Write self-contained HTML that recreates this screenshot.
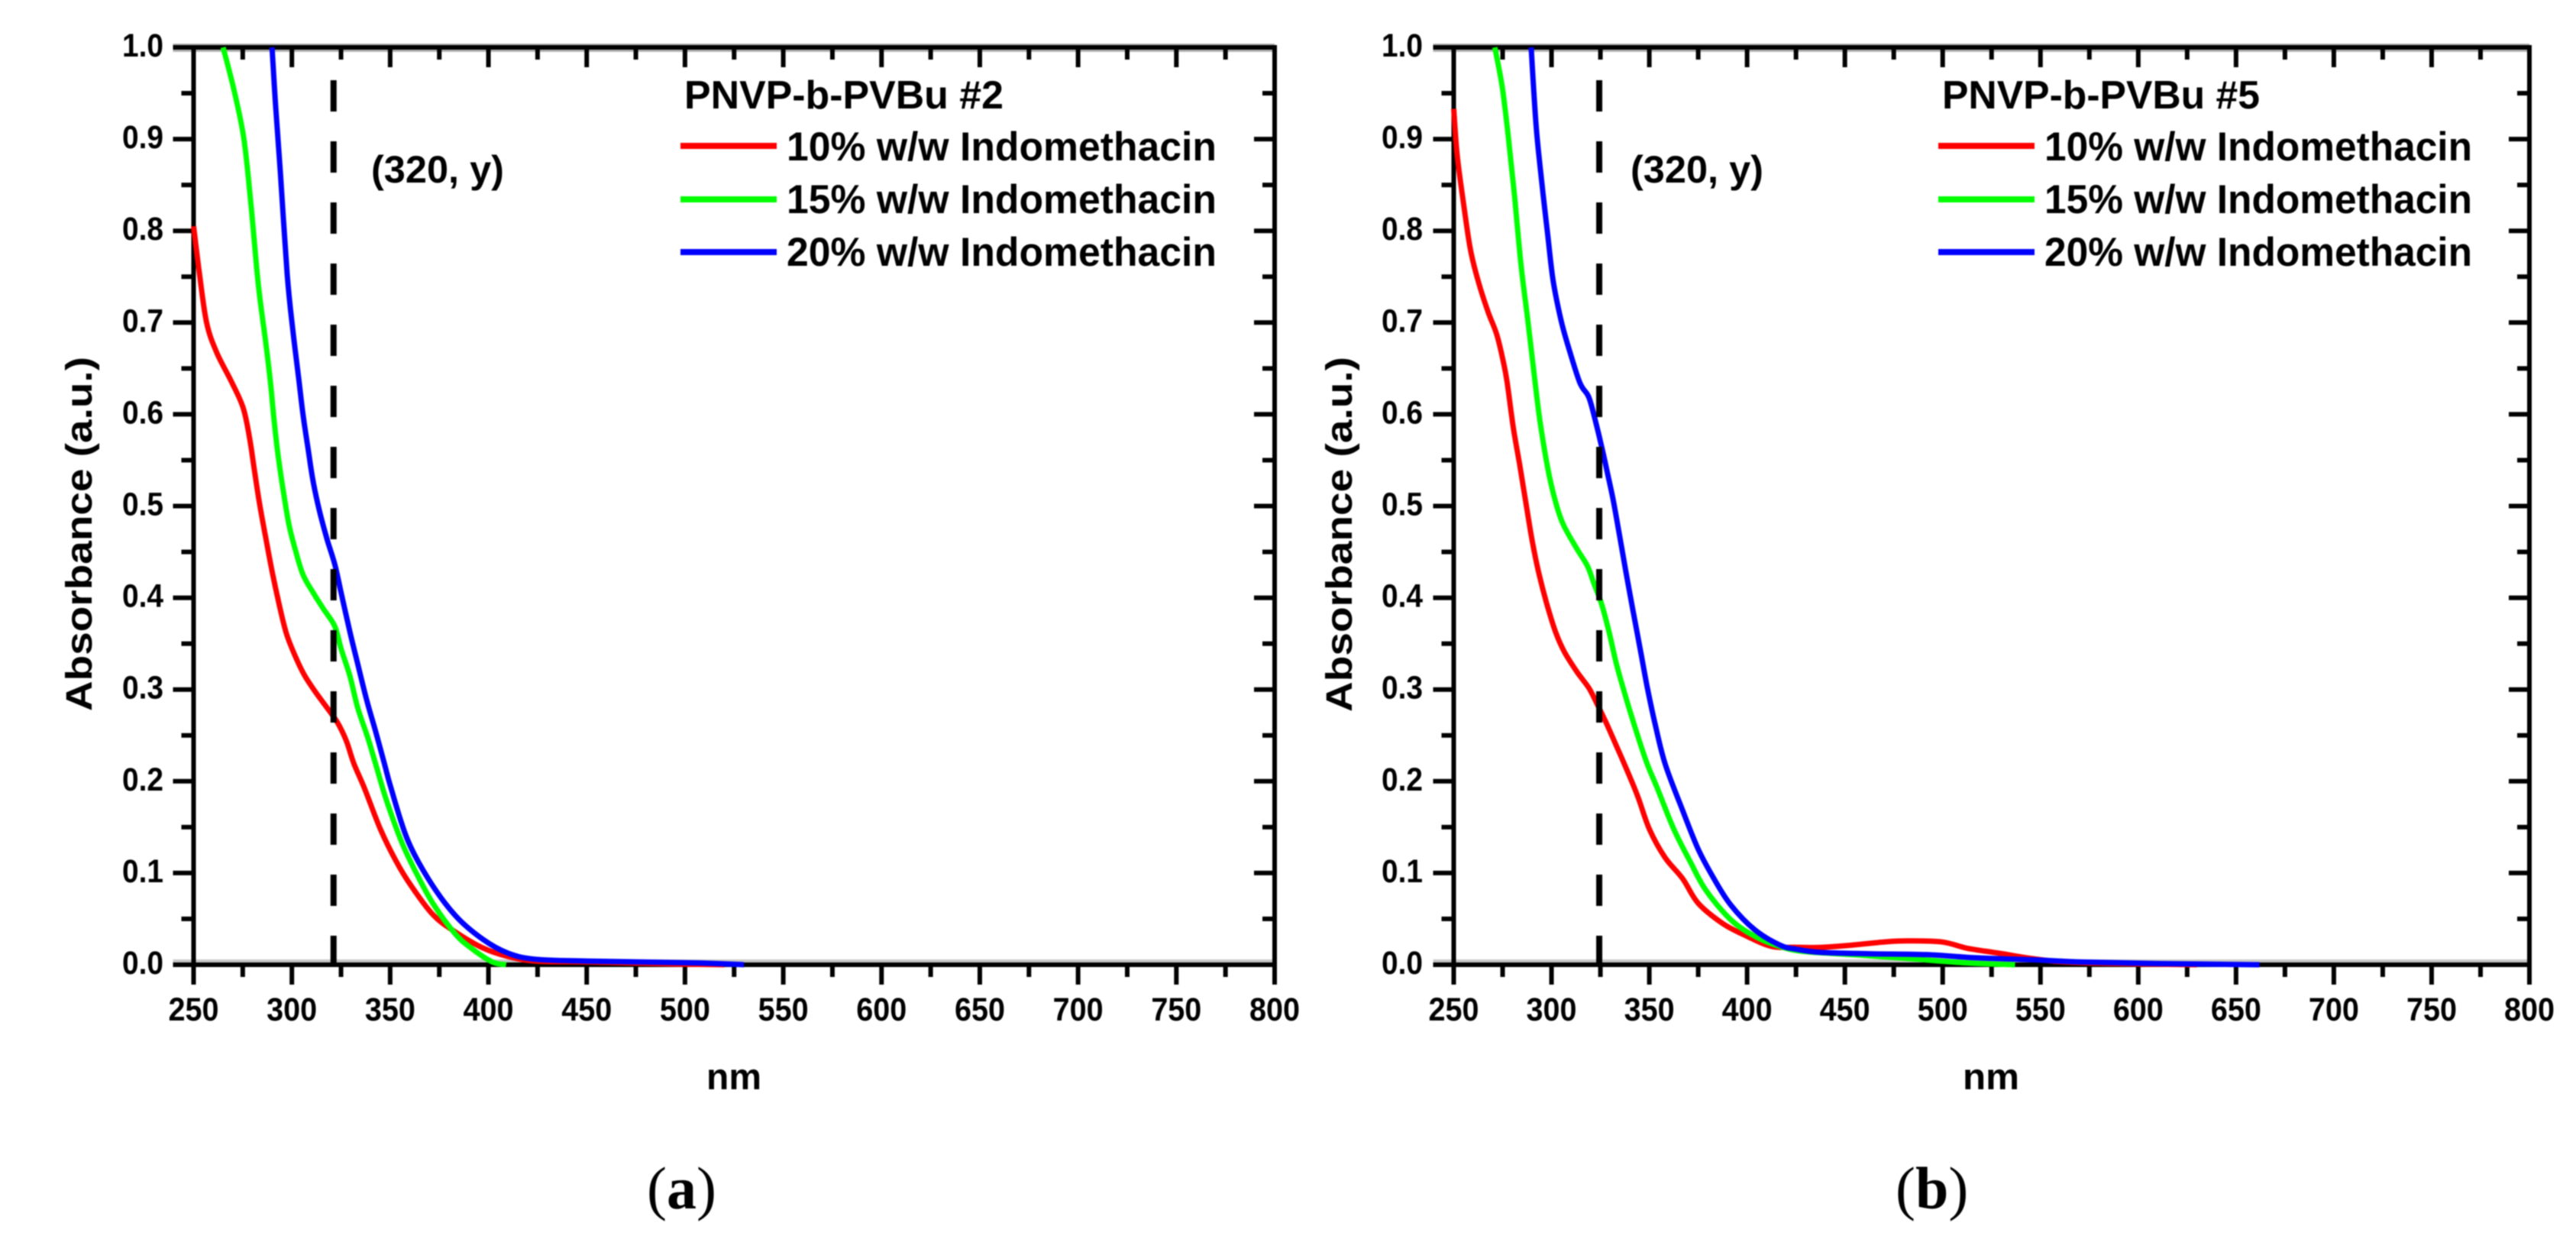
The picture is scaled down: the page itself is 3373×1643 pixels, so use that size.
<!DOCTYPE html>
<html lang="en">
<head>
<meta charset="utf-8">
<title>UV-Vis absorbance of PNVP-b-PVBu with Indomethacin</title>
<style>
html,body{margin:0;padding:0;background:#fff;}
svg{display:block;}
text{font-family:"Liberation Sans",sans-serif;font-weight:700;fill:#000;}
.serif{font-family:"Liberation Serif",serif;font-weight:400;}
</style>
</head>
<body>
<svg id="figure" xmlns="http://www.w3.org/2000/svg" width="3373" height="1643" viewBox="0 0 3373 1643">
  <rect width="3373" height="1643" fill="#fff"/>
  <g id="root" style="filter:blur(0.8px)">
    <g id="panel-a">
      <text transform="translate(120,931) rotate(-90)" font-size="48" textLength="464" lengthAdjust="spacingAndGlyphs">Absorbance (a.u.)</text>
      <text x="925" y="1426" font-size="48" textLength="72" lengthAdjust="spacingAndGlyphs">nm</text>
      <text x="486" y="239" font-size="50" textLength="174" lengthAdjust="spacingAndGlyphs">(320, y)</text>
      <text x="896" y="142" font-size="52" textLength="418" lengthAdjust="spacingAndGlyphs">PNVP-b-PVBu #2</text>
      <line x1="891" x2="1017" y1="191" y2="191" stroke="#ff0000" stroke-width="8"/>
      <line x1="891" x2="1017" y1="261" y2="261" stroke="#00ff00" stroke-width="8"/>
      <line x1="891" x2="1017" y1="330" y2="330" stroke="#0000ff" stroke-width="8"/>
      <text x="1030" y="210" font-size="53" textLength="563" lengthAdjust="spacingAndGlyphs">10% w/w Indomethacin</text>
      <text x="1030" y="279" font-size="53" textLength="563" lengthAdjust="spacingAndGlyphs">15% w/w Indomethacin</text>
      <text x="1030" y="348" font-size="53" textLength="563" lengthAdjust="spacingAndGlyphs">20% w/w Indomethacin</text>
      <text class="serif" x="847" y="1582" font-size="78">(<tspan font-weight="700" style="font-weight:700">a</tspan>)</text>
    </g>
    <g id="panel-b">
      <text transform="translate(1770,932) rotate(-90)" font-size="48" textLength="465" lengthAdjust="spacingAndGlyphs">Absorbance (a.u.)</text>
      <text x="2570" y="1426" font-size="48" textLength="74" lengthAdjust="spacingAndGlyphs">nm</text>
      <text x="2135" y="239" font-size="50" textLength="174" lengthAdjust="spacingAndGlyphs">(320, y)</text>
      <text x="2543" y="142" font-size="52" textLength="416" lengthAdjust="spacingAndGlyphs">PNVP-b-PVBu #5</text>
      <line x1="2538" x2="2664" y1="191" y2="191" stroke="#ff0000" stroke-width="8"/>
      <line x1="2538" x2="2664" y1="261" y2="261" stroke="#00ff00" stroke-width="8"/>
      <line x1="2538" x2="2664" y1="330" y2="330" stroke="#0000ff" stroke-width="8"/>
      <text x="2677" y="210" font-size="53" textLength="560" lengthAdjust="spacingAndGlyphs">10% w/w Indomethacin</text>
      <text x="2677" y="279" font-size="53" textLength="560" lengthAdjust="spacingAndGlyphs">15% w/w Indomethacin</text>
      <text x="2677" y="348" font-size="53" textLength="560" lengthAdjust="spacingAndGlyphs">20% w/w Indomethacin</text>
      <text class="serif" x="2482" y="1582" font-size="78">(<tspan font-weight="700" style="font-weight:700">b</tspan>)</text>
    </g>
  </g>
</svg>
<script>
// Tick values and labels
var xMajorTicks = [250, 300, 350, 400, 450, 500, 550, 600, 650, 700, 750, 800];
var xMinorTicks = [275, 325, 375, 425, 475, 525, 575, 625, 675, 725, 775];
var yMajorTicks = [0, 0.1, 0.2, 0.3, 0.4, 0.5, 0.6, 0.7, 0.8, 0.9, 1.0];
var yMinorTicks = [0.05, 0.15, 0.25, 0.35, 0.45, 0.55, 0.65, 0.75, 0.85, 0.95];
var xTickLabels = ["250", "300", "350", "400", "450", "500", "550", "600", "650", "700", "750", "800"];
var yTickLabels = ["0.0", "0.1", "0.2", "0.3", "0.4", "0.5", "0.6", "0.7", "0.8", "0.9", "1.0"];

// Panel (a) – PNVP-b-PVBu #2
var markerNmA = 321.2;
var redNmA = [250, 253, 256.6, 261.6, 269.4, 275.2, 278.5, 281, 283.6, 286.9, 290.1, 293.4, 297.2, 301.8, 306.3, 312.1, 318.6, 323.2, 327.7, 331.6, 337, 345, 353, 361, 372, 383, 397, 410, 424, 450, 490, 520];
var redAbsA = [0.805, 0.753, 0.70, 0.668, 0.635, 0.607, 0.574, 0.538, 0.502, 0.463, 0.427, 0.394, 0.361, 0.336, 0.316, 0.297, 0.278, 0.264, 0.244, 0.219, 0.192, 0.148, 0.113, 0.085, 0.054, 0.036, 0.0185, 0.009, 0.004, 0.003, 0.001, 0];
var greenNmA = [265, 270.6, 275.6, 279.2, 282.9, 286.6, 289.1, 290.7, 292.7, 295.3, 298.5, 301.8, 305.7, 311, 316, 321.8, 325.1, 329.6, 333.5, 338.7, 342.6, 348, 356, 364, 372, 383, 391, 402, 409];
var greenAbsA = [1.0, 0.953, 0.90, 0.828, 0.742, 0.68, 0.635, 0.599, 0.56, 0.521, 0.48, 0.452, 0.425, 0.405, 0.388, 0.369, 0.344, 0.314, 0.28, 0.247, 0.219, 0.18, 0.133, 0.097, 0.066, 0.034, 0.0185, 0.003, 0];
var blueNmA = [289.9, 291.6, 294.1, 297.6, 300.3, 303.7, 305.7, 308.2, 310.8, 314.1, 318, 321.9, 325.1, 329.6, 333.5, 338, 342.5, 347.1, 350.5, 358.7, 369.6, 383, 397, 410, 424, 451, 506, 530];
var blueAbsA = [1.0, 0.94, 0.865, 0.753, 0.695, 0.635, 0.599, 0.563, 0.527, 0.494, 0.463, 0.436, 0.405, 0.362, 0.328, 0.289, 0.255, 0.219, 0.192, 0.137, 0.093, 0.054, 0.028, 0.0126, 0.006, 0.004, 0.002, 0];

// Panel (b) – PNVP-b-PVBu #5
var markerNmB = 324.4;
var redNmB = [250, 251.8, 255.2, 258.5, 262.4, 267.5, 272, 275.4, 277.3, 280.5, 283.8, 287, 290.3, 293.5, 297.5, 302, 306.6, 313.1, 319, 322.9, 328.1, 333.3, 337.2, 344, 350, 358, 367, 375, 387.5, 400, 412.5, 425, 437.5, 454, 471, 483, 500, 512.5, 529, 546, 562, 587, 630];
var redAbsB = [0.933, 0.882, 0.827, 0.78, 0.746, 0.712, 0.687, 0.657, 0.635, 0.585, 0.544, 0.502, 0.46, 0.427, 0.394, 0.363, 0.341, 0.319, 0.302, 0.286, 0.263, 0.238, 0.219, 0.184, 0.148, 0.117, 0.094, 0.067, 0.045, 0.031, 0.02, 0.019, 0.019, 0.0215, 0.025, 0.026, 0.0247, 0.018, 0.0125, 0.0067, 0.003, 0.0013, 0];
var greenNmB = [271, 274.7, 277.7, 281, 284.4, 287.8, 291.6, 294.2, 298.1, 302, 306, 312.5, 318.3, 321.6, 325.5, 329.4, 333.3, 338.5, 343.7, 348.9, 354, 362.5, 371, 379, 391.7, 404, 416.7, 429, 454, 483, 512.5, 537];
var greenAbsB = [1.0, 0.958, 0.907, 0.84, 0.763, 0.704, 0.635, 0.591, 0.541, 0.505, 0.48, 0.455, 0.435, 0.416, 0.394, 0.363, 0.327, 0.288, 0.252, 0.219, 0.193, 0.148, 0.112, 0.081, 0.049, 0.031, 0.02, 0.0144, 0.011, 0.0067, 0.002, 0];
var blueNmB = [289.6, 291, 292.7, 295.7, 298, 300.8, 304.7, 308, 314.4, 319, 322.3, 325.5, 328.1, 331.4, 334.7, 337.9, 341.2, 345.1, 349, 352.9, 358.1, 366.7, 375, 383, 391.7, 404, 416.7, 425, 437.5, 462.5, 491.7, 516.7, 546, 571, 608, 662];
var blueAbsB = [1.0, 0.95, 0.90, 0.84, 0.797, 0.746, 0.704, 0.678, 0.635, 0.619, 0.594, 0.566, 0.541, 0.508, 0.469, 0.43, 0.391, 0.347, 0.302, 0.263, 0.219, 0.17, 0.126, 0.094, 0.065, 0.038, 0.0215, 0.017, 0.0135, 0.012, 0.011, 0.0076, 0.0054, 0.003, 0.0013, 0];

var SVG_NS = "http://www.w3.org/2000/svg";

function shape(tag, parent, attrs) {
  var el = document.createElementNS(SVG_NS, tag);
  for (var k in attrs) { el.setAttribute(k, attrs[k]); }
  parent.insertBefore(el, parent.firstChild);
  return el;
}

function linearScale(d0, d1, r0, r1) {
  return function (v) { return r0 + (v - d0) * (r1 - r0) / (d1 - d0); };
}

// Smooth path through the points (Catmull-Rom converted to cubic Beziers)
function smoothPath(pts) {
  var d = "M" + pts[0][0].toFixed(1) + "," + pts[0][1].toFixed(1);
  for (var i = 0; i < pts.length - 1; i++) {
    var p0 = pts[Math.max(i - 1, 0)], p1 = pts[i], p2 = pts[i + 1], p3 = pts[Math.min(i + 2, pts.length - 1)];
    var c1x = p1[0] + (p2[0] - p0[0]) / 6, c1y = p1[1] + (p2[1] - p0[1]) / 6;
    var c2x = p2[0] - (p3[0] - p1[0]) / 6, c2y = p2[1] - (p3[1] - p1[1]) / 6;
    d += "C" + c1x.toFixed(1) + "," + c1y.toFixed(1) + " " + c2x.toFixed(1) + "," + c2y.toFixed(1) + " " + p2[0].toFixed(1) + "," + p2[1].toFixed(1);
  }
  return d;
}

function drawPanel(panelId, suffix, left, right, top, bottom, labelRight, markerNm, series) {
  var parent = document.getElementById(panelId);
  var xScale = linearScale(250, 800, left, right);
  var yScale = linearScale(0, 1, bottom, top);

  // Text labels
  xTickLabels.forEach(function (label, i) {
    var t = shape("text", parent, { x: xScale(xMajorTicks[i]) - 33, y: 1336, "font-size": 43, textLength: 66, lengthAdjust: "spacingAndGlyphs" });
    t.textContent = label;
    
    
  });
  yTickLabels.forEach(function (label, i) {
    var t = shape("text", parent, { x: labelRight - 54, y: yScale(yMajorTicks[i]) + 12, "font-size": 43, textLength: 54, lengthAdjust: "spacingAndGlyphs" });
    t.textContent = label;
    
    
  });

  // Dashed marker line, above the curves
  var mx = xScale(markerNm);
  var marker = shape("line", parent, { x1: mx, x2: mx, y1: 105, y2: bottom, stroke: "#000", "stroke-width": 8, "stroke-dasharray": "41 39" });
  
  

  // Series are prepended, so the first one handled ends up on top.
  series.forEach(function (s) {
    var pts = s.nm.map(function (v, i) { return [xScale(v), yScale(s.abs[i])]; });
    var line = shape("path", parent, { d: smoothPath(pts), fill: "none", stroke: s.color, "stroke-width": 7, "stroke-linejoin": "round", "stroke-linecap": "butt" });
    
    
  });

  // Frame
  var frame = shape("rect", parent, { x: left, y: top, width: right - left, height: bottom - top, fill: "none", stroke: "#000", "stroke-width": 6 });
  
  

  // Ticks
  function xTick(v, len, name) {
    var x = xScale(v);
    var bottomTick = shape("line", parent, { x1: x, x2: x, y1: bottom, y2: bottom + len, stroke: "#000", "stroke-width": 6 });
    
    
    var topTick = shape("line", parent, { x1: x, x2: x, y1: top, y2: top + len, stroke: "#000", "stroke-width": 6 });
    
    
  }
  function yTick(v, len, name) {
    var y = yScale(v);
    var leftTick = shape("line", parent, { x1: left - len, x2: left, y1: y, y2: y, stroke: "#000", "stroke-width": 6 });
    
    
    var rightTick = shape("line", parent, { x1: right - len, x2: right, y1: y, y2: y, stroke: "#000", "stroke-width": 6 });
    
    
  }
  xMajorTicks.forEach(function (v) { xTick(v, 26, 'x-major-tick'); });
  xMinorTicks.forEach(function (v) { xTick(v, 16, 'x-minor-tick'); });
  yMajorTicks.forEach(function (v) { yTick(v, 27, 'y-major-tick'); });
  yMinorTicks.forEach(function (v) { yTick(v, 16, 'y-minor-tick'); });

  // Soft grey halo along the horizontal axes
  var haloTop = shape("rect", parent, { x: left - 27, y: top - 5, width: right - left + 27, height: 11, fill: "#b5b5b5" });
  
  
  var haloBottom = shape("rect", parent, { x: left - 27, y: bottom - 7, width: right - left + 27, height: 8, fill: "#c8c8c8" });
  
  
}

drawPanel("panel-a", "a", 253.5, 1669, 62, 1263, 214, markerNmA, [
  { name: "series-20-percent-a", color: "#0000ff", nm: blueNmA, abs: blueAbsA },
  { name: "series-15-percent-a", color: "#00ff00", nm: greenNmA, abs: greenAbsA },
  { name: "series-10-percent-a", color: "#ff0000", nm: redNmA, abs: redAbsA }
]);

drawPanel("panel-b", "b", 1903.5, 3312, 62, 1263, 1863, markerNmB, [
  { name: "series-20-percent-b", color: "#0000ff", nm: blueNmB, abs: blueAbsB },
  { name: "series-15-percent-b", color: "#00ff00", nm: greenNmB, abs: greenAbsB },
  { name: "series-10-percent-b", color: "#ff0000", nm: redNmB, abs: redAbsB }
]);
</script>
</body>
</html>
